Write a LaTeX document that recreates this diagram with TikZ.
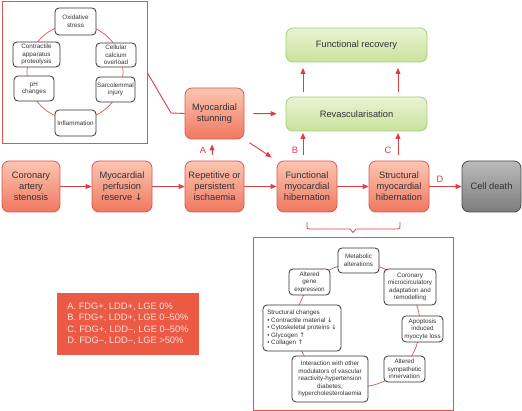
\documentclass[tikz,border=0pt]{standalone}
\usepackage{fontspec}
\setmainfont{Liberation Sans}
\newfontfamily\symfont{DejaVu Sans}
\usetikzlibrary{arrows.meta}
\definecolor{boxred}{HTML}{DE5752}
\definecolor{lnred}{HTML}{E03C46}
\definecolor{redtop}{HTML}{FBC6B1}
\definecolor{redbot}{HTML}{F07860}
\definecolor{greentop}{HTML}{E9F4D4}
\definecolor{greenbot}{HTML}{C9E29C}
\definecolor{greenbd}{HTML}{A6CC76}
\definecolor{graytop}{HTML}{BBBBBB}
\definecolor{graybot}{HTML}{7C7C7C}
\definecolor{graybd}{HTML}{4A4A4A}
\definecolor{legred}{HTML}{EC5A46}
\definecolor{legtxt}{HTML}{FDE2DA}
\definecolor{txt}{HTML}{333333}
\begin{document}
\begin{tikzpicture}[x=1pt,y=-1pt,
  mainbox/.style={draw=boxred, line width=0.8pt, rounded corners=7pt, top color=redtop, bottom color=redbot, text=txt, align=center, font=\fontsize{9.3}{11}\selectfont, inner sep=0pt, minimum width=59pt, minimum height=51pt},
  greenbox/.style={draw=greenbd, line width=0.8pt, rounded corners=7pt, top color=greentop, bottom color=greenbot, text=txt, align=center, font=\fontsize{9.3}{11}\selectfont, inner sep=0pt, minimum width=141pt, minimum height=34pt},
  graybox/.style={draw=graybd, line width=0.8pt, rounded corners=7pt, top color=graytop, bottom color=graybot, text=txt, align=center, font=\fontsize{9.3}{11}\selectfont, inner sep=0pt, minimum width=59pt, minimum height=51pt},
  small/.style={draw=txt, fill=white, rounded corners=4pt, line width=0.8pt, align=center, font=\fontsize{6.3}{7.6}\selectfont, text=txt, inner sep=0pt},
  frame/.style={draw=boxred, line width=1pt, inner sep=0pt},
  ring/.style={draw=boxred, line width=0.7pt},
  conn/.style={draw=lnred, line width=0.9pt},
  arr/.style={conn, -{Triangle[length=6pt,width=5pt]}},
  lab/.style={text=lnred, font=\fontsize{9.3}{11}\selectfont, inner sep=0pt},
]
\useasboundingbox (0,0) rectangle (522,411);

% top-left panel
\node[frame, minimum width=145pt, minimum height=142pt] (tl) at (74.5,73) {};
\draw[ring] (75,72) circle[radius=48];
\node[small, minimum width=41pt, minimum height=27pt] (ox) at (75.5,21.5) {Oxidative\\stress};
\node[small, minimum width=47pt, minimum height=25pt] (cap) at (36.5,54.5) {Contractile\\apparatus\\proteolysis};
\node[small, minimum width=40pt, minimum height=24pt] (cco) at (116,55) {Cellular\\calcium\\overload};
\node[small, minimum width=40pt, minimum height=25pt] (ph) at (34,88.5) {pH\\changes};
\node[small, minimum width=39pt, minimum height=25pt] (sar) at (115.5,89.5) {Sarcolemmal\\injury};
\node[small, minimum width=41pt, minimum height=26pt] (inf) at (75.5,123) {Inflammation};

% main row
\node[mainbox, minimum width=58pt] (cor) at (31,186.5) {Coronary\\artery\\stenosis};
\node[mainbox, minimum width=60pt] (mpr) at (122,186.5) {Myocardial\\perfusion\\reserve {\symfont↓}};
\node[mainbox] (rep) at (214.5,186.5) {Repetitive or\\persistent\\ischaemia};
\node[mainbox, minimum width=60pt] (fmh) at (307,186.5) {Functional\\myocardial\\hibernation};
\node[mainbox, minimum width=60pt] (smh) at (399,186.5) {Structural\\myocardial\\hibernation};
\node[graybox] (cd) at (491.5,186.5) {Cell death};
\node[mainbox] (stun) at (214.5,113.5) {Myocardial\\stunning};
\node[greenbox] (rev) at (356.5,114) {Revascularisation};
\node[greenbox] (fr) at (356.5,45) {Functional recovery};

% connectors
\coordinate (bend) at (171,113);
\draw[conn] (tl.east) -- (bend) -- (stun.west);
\draw[arr] (cor) -- (mpr);
\draw[arr] (mpr) -- (rep);
\draw[arr] (rep) -- (fmh);
\draw[arr] (fmh) -- (smh);
\draw[arr] (smh) -- (cd);
\draw[arr, shorten <=6pt, shorten >=5pt] ([xshift=-2.5pt]rep.north) -- ([xshift=-2.5pt]rep.north |- stun.south);
\draw[arr, shorten <=9pt, shorten >=9pt] (stun) -- (rev);
\draw[arr, shorten <=6pt, shorten >=6pt] (stun.south east) -- (fmh.north west);
\draw[arr, shorten <=6pt, shorten >=1.5pt] ([xshift=-4pt]fmh.north) -- ([xshift=-4pt]fmh.north |- rev.south);
\draw[arr, shorten <=6pt, shorten >=1.5pt] ([xshift=-1pt]smh.north) -- ([xshift=-1pt]smh.north |- rev.south);
\draw[arr, shorten <=5pt, shorten >=5.5pt] ([xshift=-53.5pt]rev.north) -- ([xshift=-53.5pt]rev.north |- fr.south);
\draw[arr, shorten <=5pt, shorten >=5.5pt] ([xshift=41.5pt]rev.north) -- ([xshift=41.5pt]rev.north |- fr.south);
\node[lab] (la) at (203,150.5) {A};
\node[lab] (lb) at (295,150.5) {B};
\node[lab] (lc) at (388,150.5) {C};
\node[lab] (ld) at (440,179) {D};

% brace
\draw[conn, line width=0.8pt, line join=round] (307,222) -- (307,226) .. controls (307,229) .. (310,229) -- (350,229) -- (353,232.5) -- (356,229) -- (397,229) .. controls (400,229) .. (400,226) -- (400,222);

% bottom-right panel
\node[frame, minimum width=200pt, minimum height=172pt] (br) at (353,324) {};
\draw[ring] (358,325) circle[radius=62];
\node[small, minimum width=41pt, minimum height=25pt] (met) at (358.5,260.5) {Metabolic\\alterations};
\node[small, minimum width=52pt, minimum height=36pt] (cmi) at (410,287) {Coronary\\microcirculatory\\adaptation and\\remodelling};
\node[small, minimum width=41pt, minimum height=26pt] (apo) at (422.5,329) {Apoptosis\\induced\\myocyte loss};
\node[small, minimum width=41pt, minimum height=26pt] (sym) at (404.5,369) {Altered\\sympathetic\\innervation};
\node[small, minimum width=76pt, minimum height=46pt] (int) at (330,379) {Interaction with other\\modulators of vascular\\reactivity-hypertension\\diabetes,\\hypercholesterolaemia};
\node[small, minimum width=78pt, minimum height=46pt, align=left] (stc) at (302,328) {Structural changes\\\textbullet\ Contractile material {\symfont↓}\\\textbullet\ Cytoskeletal proteins {\symfont↓}\\\textbullet\ Glycogen {\symfont↑}\\\textbullet\ Collagen {\symfont↑}};
\node[small, minimum width=41pt, minimum height=26pt] (age) at (309.5,282) {Altered\\gene\\expression};

% legend
\node[fill=legred, minimum width=142pt, minimum height=62pt, inner sep=0pt, text=legtxt, align=left, font=\fontsize{9.3}{11.5}\selectfont] (leg) at (128,324) {A. FDG+, LDD+, LGE 0\%\\B. FDG+, LDD+, LGE 0–50\%\\C. FDG+, LDD–, LGE 0–50\%\\D. FDG–, LDD–, LGE >50\%};
\end{tikzpicture}
\end{document}
